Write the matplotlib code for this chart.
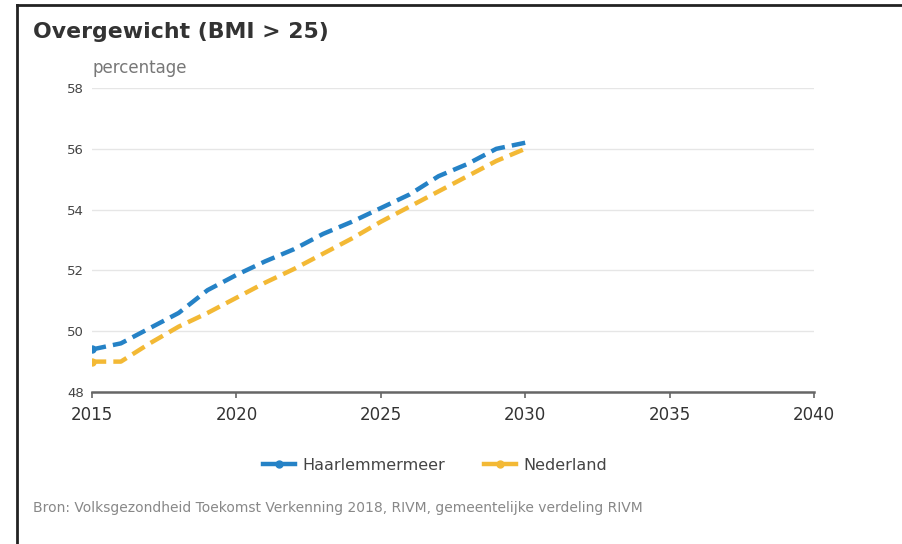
import matplotlib.pyplot as plt
from matplotlib.lines import Line2D

jaren = [2015, 2016, 2017, 2018, 2019, 2020, 2021, 2022, 2023, 2024, 2025, 2026, 2027, 2028, 2029, 2030]
haarlemmermeer = [49.4, 49.6, 50.1, 50.6, 51.35, 51.85, 52.3, 52.7, 53.2, 53.6, 54.05, 54.5, 55.1, 55.5, 56.0, 56.2]
nederland = [49.0, 49.0, 49.6, 50.15, 50.6, 51.1, 51.6, 52.05, 52.55, 53.05, 53.6, 54.1, 54.6, 55.1, 55.6, 56.0]
x_ticks = [2015, 2020, 2025, 2030, 2035, 2040]
y_ticks = [48, 50, 52, 54, 56, 58]

blauw = '#2582c6'
geel = '#f3b935'

fig = plt.figure(figsize=(9.02, 5.44), dpi=100)
ax = fig.add_axes([0.102, 0.2794, 0.8004, 0.5588])

ax.plot(jaren, haarlemmermeer, color=blauw, lw=3.2, dashes=(3.2, 1.6),
        marker='o', ms=5, markevery=[0], label='Haarlemmermeer')
ax.plot(jaren, nederland, color=geel, lw=3.2, dashes=(3.2, 1.6),
        marker='o', ms=5, markevery=[0], label='Nederland')

ax.set_xlim(2015, 2040)
ax.set_ylim(48, 58)
ax.set_xticks(x_ticks)
ax.set_yticks(y_ticks)
ax.grid(axis='y', color='#e6e6e6', lw=1)
ax.set_axisbelow(True)
for s in ['top', 'right', 'left']:
    ax.spines[s].set_visible(False)
ax.spines['bottom'].set_color('#666666')
ax.spines['bottom'].set_linewidth(1.8)
ax.tick_params(axis='x', colors='#666666', length=4, width=1.2, labelsize=12, labelcolor='#333333', pad=6)
ax.tick_params(axis='y', length=0, labelsize=9.5, labelcolor='#444444', pad=6)

ax.text(0.0, 1.035, 'percentage', transform=ax.transAxes, fontsize=12, color='#777777', ha='left', va='bottom')

fig.text(33 / 902, 1 - 32 / 544, 'Overgewicht (BMI > 25)', fontsize=15.8, fontweight='bold',
         color='#333333', ha='left', va='center')

handles = [Line2D([0], [0], color=blauw, lw=3.2, marker='o', ms=5),
           Line2D([0], [0], color=geel, lw=3.2, marker='o', ms=5)]
fig.legend(handles, ['Haarlemmermeer', 'Nederland'], loc='center', bbox_to_anchor=(435 / 902, 1 - 465 / 544),
           ncol=2, frameon=False, fontsize=11.5, handlelength=2.0, handletextpad=0.5,
           columnspacing=2.4, labelcolor='#444444')

fig.text(33 / 902, 1 - 508 / 544,
         'Bron: Volksgezondheid Toekomst Verkenning 2018, RIVM, gemeentelijke verdeling RIVM',
         fontsize=10, color='#888888', ha='left', va='center')

# kader links en boven
fig.add_artist(Line2D([17 / 902, 17 / 902], [0, 1 - 5 / 544], color='#222222', lw=2))
fig.add_artist(Line2D([17 / 902, 1], [1 - 5 / 544, 1 - 5 / 544], color='#222222', lw=2))

fig.savefig('out.png', dpi=100)
